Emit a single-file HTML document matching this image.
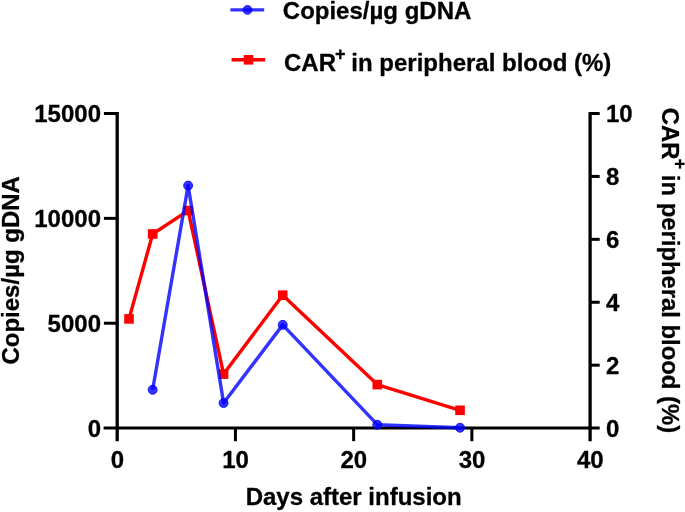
<!DOCTYPE html>
<html lang="en">
<head>
<meta charset="utf-8">
<title>CAR-T expansion chart</title>
<style>
html,body{margin:0;padding:0;background:#fff;}
body{width:685px;height:512px;overflow:hidden;}
svg{display:block;}
text{font-family:"Liberation Sans",Arial,Helvetica,sans-serif;font-weight:bold;font-size:24px;fill:#000;stroke:#000;stroke-width:0.3px;stroke-linejoin:round;}
.sup{font-size:18px;}
</style>
</head>
<body>
<svg width="685" height="512" viewBox="0 0 685 512">
<rect width="685" height="512" fill="#fff"/>

<g stroke="#000" fill="none" stroke-linecap="butt">
<line x1="117.2" y1="112.0" x2="117.2" y2="441.2" stroke-width="3.3"/>
<line x1="590.1" y1="112.0" x2="590.1" y2="441.2" stroke-width="3.3"/>
<line x1="103.6" y1="428.1" x2="599.7" y2="428.1" stroke-width="3.0"/>
<line x1="103.9" y1="323.23" x2="117.2" y2="323.23" stroke-width="3.0"/>
<line x1="103.9" y1="218.37" x2="117.2" y2="218.37" stroke-width="3.0"/>
<line x1="103.9" y1="113.50" x2="117.2" y2="113.50" stroke-width="3.0"/>
<line x1="590.1" y1="365.18" x2="599.7" y2="365.18" stroke-width="3.0"/>
<line x1="590.1" y1="302.26" x2="599.7" y2="302.26" stroke-width="3.0"/>
<line x1="590.1" y1="239.34" x2="599.7" y2="239.34" stroke-width="3.0"/>
<line x1="590.1" y1="176.42" x2="599.7" y2="176.42" stroke-width="3.0"/>
<line x1="590.1" y1="113.50" x2="599.7" y2="113.50" stroke-width="3.0"/>
<line x1="235.43" y1="428.1" x2="235.43" y2="441.2" stroke-width="3.0"/>
<line x1="353.65" y1="428.1" x2="353.65" y2="441.2" stroke-width="3.0"/>
<line x1="471.88" y1="428.1" x2="471.88" y2="441.2" stroke-width="3.0"/>
</g>
<polyline points="129.02,318.90 152.67,234.00 188.13,210.60 223.60,374.10 282.72,295.20 377.30,384.60 460.05,410.30" fill="none" stroke="#ff0000" stroke-width="3.4" stroke-linejoin="round"/>
<rect x="124.22" y="314.10" width="9.6" height="9.6" fill="#ff0000"/>
<rect x="147.87" y="229.20" width="9.6" height="9.6" fill="#ff0000"/>
<rect x="183.33" y="205.80" width="9.6" height="9.6" fill="#ff0000"/>
<rect x="218.80" y="369.30" width="9.6" height="9.6" fill="#ff0000"/>
<rect x="277.92" y="290.40" width="9.6" height="9.6" fill="#ff0000"/>
<rect x="372.50" y="379.80" width="9.6" height="9.6" fill="#ff0000"/>
<rect x="455.25" y="405.50" width="9.6" height="9.6" fill="#ff0000"/>
<polyline points="152.67,389.80 188.13,185.60 223.60,403.00 282.72,324.85 377.30,424.70 460.05,427.75" fill="none" stroke="#0000ff" stroke-opacity="0.8" stroke-width="3.4" stroke-linejoin="round"/>
<circle cx="152.67" cy="389.80" r="4.5" fill="#0000ff" fill-opacity="0.8" stroke="#0000ff" stroke-opacity="0.8" stroke-width="1"/>
<circle cx="188.13" cy="185.60" r="4.5" fill="#0000ff" fill-opacity="0.8" stroke="#0000ff" stroke-opacity="0.8" stroke-width="1"/>
<circle cx="223.60" cy="403.00" r="4.5" fill="#0000ff" fill-opacity="0.8" stroke="#0000ff" stroke-opacity="0.8" stroke-width="1"/>
<circle cx="282.72" cy="324.85" r="4.5" fill="#0000ff" fill-opacity="0.8" stroke="#0000ff" stroke-opacity="0.8" stroke-width="1"/>
<circle cx="377.30" cy="424.70" r="4.5" fill="#0000ff" fill-opacity="0.8" stroke="#0000ff" stroke-opacity="0.8" stroke-width="1"/>
<circle cx="460.05" cy="427.75" r="4.5" fill="#0000ff" fill-opacity="0.8" stroke="#0000ff" stroke-opacity="0.8" stroke-width="1"/>
<line x1="230.4" y1="9.9" x2="264.2" y2="9.9" stroke="#0000ff" stroke-opacity="0.8" stroke-width="3.4"/>
<circle cx="247.5" cy="9.95" r="4.4" fill="#0000ff" fill-opacity="0.8" stroke="#0000ff" stroke-opacity="0.8" stroke-width="1"/>
<line x1="231.6" y1="59.8" x2="265.2" y2="59.8" stroke="#ff0000" stroke-width="3.4"/>
<rect x="243.7" y="55.0" width="9.6" height="9.6" fill="#ff0000"/>
<text x="282.8" y="18.7">Copies/µg gDNA</text>
<text x="284.0" y="71.1">CAR<tspan class="sup" dx="-0.95" dy="-10.8">+</tspan><tspan dx="-0.9" dy="10.8"> in peripheral blood (%)</tspan></text>
<text x="101" y="436.80" text-anchor="end">0</text>
<text x="101" y="331.93" text-anchor="end">5000</text>
<text x="101" y="227.07" text-anchor="end">10000</text>
<text x="101" y="122.20" text-anchor="end">15000</text>
<text x="606" y="436.70">0</text>
<text x="606" y="373.78">2</text>
<text x="606" y="310.86">4</text>
<text x="606" y="247.94">6</text>
<text x="606" y="185.02">8</text>
<text x="606" y="122.10">10</text>
<text x="117.40" y="468.2" text-anchor="middle">0</text>
<text x="235.62" y="468.2" text-anchor="middle">10</text>
<text x="353.85" y="468.2" text-anchor="middle">20</text>
<text x="472.08" y="468.2" text-anchor="middle">30</text>
<text x="590.30" y="468.2" text-anchor="middle">40</text>
<text x="353.65" y="505" text-anchor="middle">Days after infusion</text>
<text transform="translate(19.1 270.3) rotate(-90)" text-anchor="middle">Copies/µg gDNA</text>
<text transform="translate(662.3 270.45) rotate(90) scale(0.994 1)" text-anchor="middle">CAR<tspan class="sup" dx="-0.8" dy="-11.4">+</tspan><tspan dx="-0.9" dy="11.4"> in peripheral blood (%)</tspan></text>
</svg>
</body>
</html>
